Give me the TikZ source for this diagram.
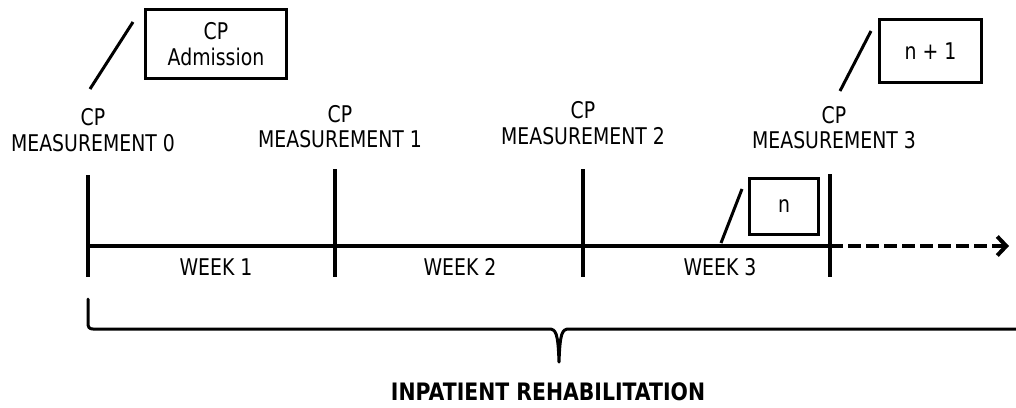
\documentclass[tikz,border=0pt]{standalone}
\usepackage{fontspec}
\setmainfont[FakeStretch=0.82]{DejaVu Sans}
\newfontfamily\rehabfont[FakeStretch=0.85]{DejaVu Sans Bold}
\usetikzlibrary{arrows.meta}
\begin{document}
\begin{tikzpicture}[x=1pt,y=-1pt,
  lbl/.style={font=\fontsize{23}{25.5}\selectfont, align=center, inner sep=0pt},
  boxnode/.style={draw, line width=3pt, font=\fontsize{23}{25.5}\selectfont, align=center, inner sep=0pt},
  axisline/.style={line width=4pt},
  tickline/.style={line width=4pt},
  leader/.style={line width=3pt},
  bracepath/.style={line width=3pt, line join=round, line cap=round},
  dashedaxis/.style={line width=4pt, dash pattern=on 12.5pt off 5.5pt, -{Straight Barb[length=9pt,width=19pt,line width=4pt]}}
]
\useasboundingbox (0,0) rectangle (1016,407);

% timeline coordinates
\coordinate (a0) at (88,246);
\coordinate (a1) at (335,246);
\coordinate (a2) at (583,246);
\coordinate (a3) at (830,246);
\coordinate (aend) at (1009,246);

\coordinate (t0top) at (88,175);  \coordinate (t0bot) at (88,277);
\coordinate (t1top) at (335,169); \coordinate (t1bot) at (335,277);
\coordinate (t2top) at (583,169); \coordinate (t2bot) at (583,277);
\coordinate (t3top) at (830,174); \coordinate (t3bot) at (830,277);

\draw[axisline] (a0) -- (a3);
\draw[dashedaxis] (a3) -- (aend);
\draw[tickline] (t0top) -- (t0bot);
\draw[tickline] (t1top) -- (t1bot);
\draw[tickline] (t2top) -- (t2bot);
\draw[tickline] (t3top) -- (t3bot);

% measurement labels
\node[lbl] (m0) at (93,130) {CP\\MEASUREMENT 0};
\node[lbl] (m1) at (340,126.5) {CP\\MEASUREMENT 1};
\node[lbl] (m2) at (583,123) {CP\\MEASUREMENT 2};
\node[lbl] (m3) at (834,127.5) {CP\\MEASUREMENT 3};

% week labels
\node[lbl] (w1) at (216,267) {WEEK 1};
\node[lbl] (w2) at (460,267) {WEEK 2};
\node[lbl] (w3) at (720,267) {WEEK 3};

% boxes
\node[boxnode, minimum width=141pt, minimum height=69pt] (adm) at (216,44) {CP\\Admission};
\node[boxnode, minimum width=102pt, minimum height=63pt] (np1) at (930.5,51) {n + 1};
\node[boxnode, minimum width=69pt, minimum height=56pt] (nbox) at (784,206.5) {n};

% leader lines
\coordinate (l0a) at (133,22);  \coordinate (l0b) at (90,89);
\coordinate (l1a) at (871,31);  \coordinate (l1b) at (840,91);
\coordinate (l2a) at (742,189); \coordinate (l2b) at (721,243);
\draw[leader] (l0a) -- (l0b);
\draw[leader] (l1a) -- (l1b);
\draw[leader] (l2a) -- (l2b);

% brace
\coordinate (bl) at (88,299);
\coordinate (btip) at (559,362);
\coordinate (br) at (1018,329);
\draw[bracepath] (bl) -- (88,323) .. controls (88,327) and (89,329) .. (93,329)
  -- (549,329) .. controls (556,329) and (558,333) .. (btip)
  .. controls (560,333) and (562,329) .. (569,329) -- (br);

\node[font=\rehabfont\fontsize{24}{26}\selectfont, inner sep=0pt] (rehab) at (548,392) {INPATIENT REHABILITATION};
\end{tikzpicture}
\end{document}
